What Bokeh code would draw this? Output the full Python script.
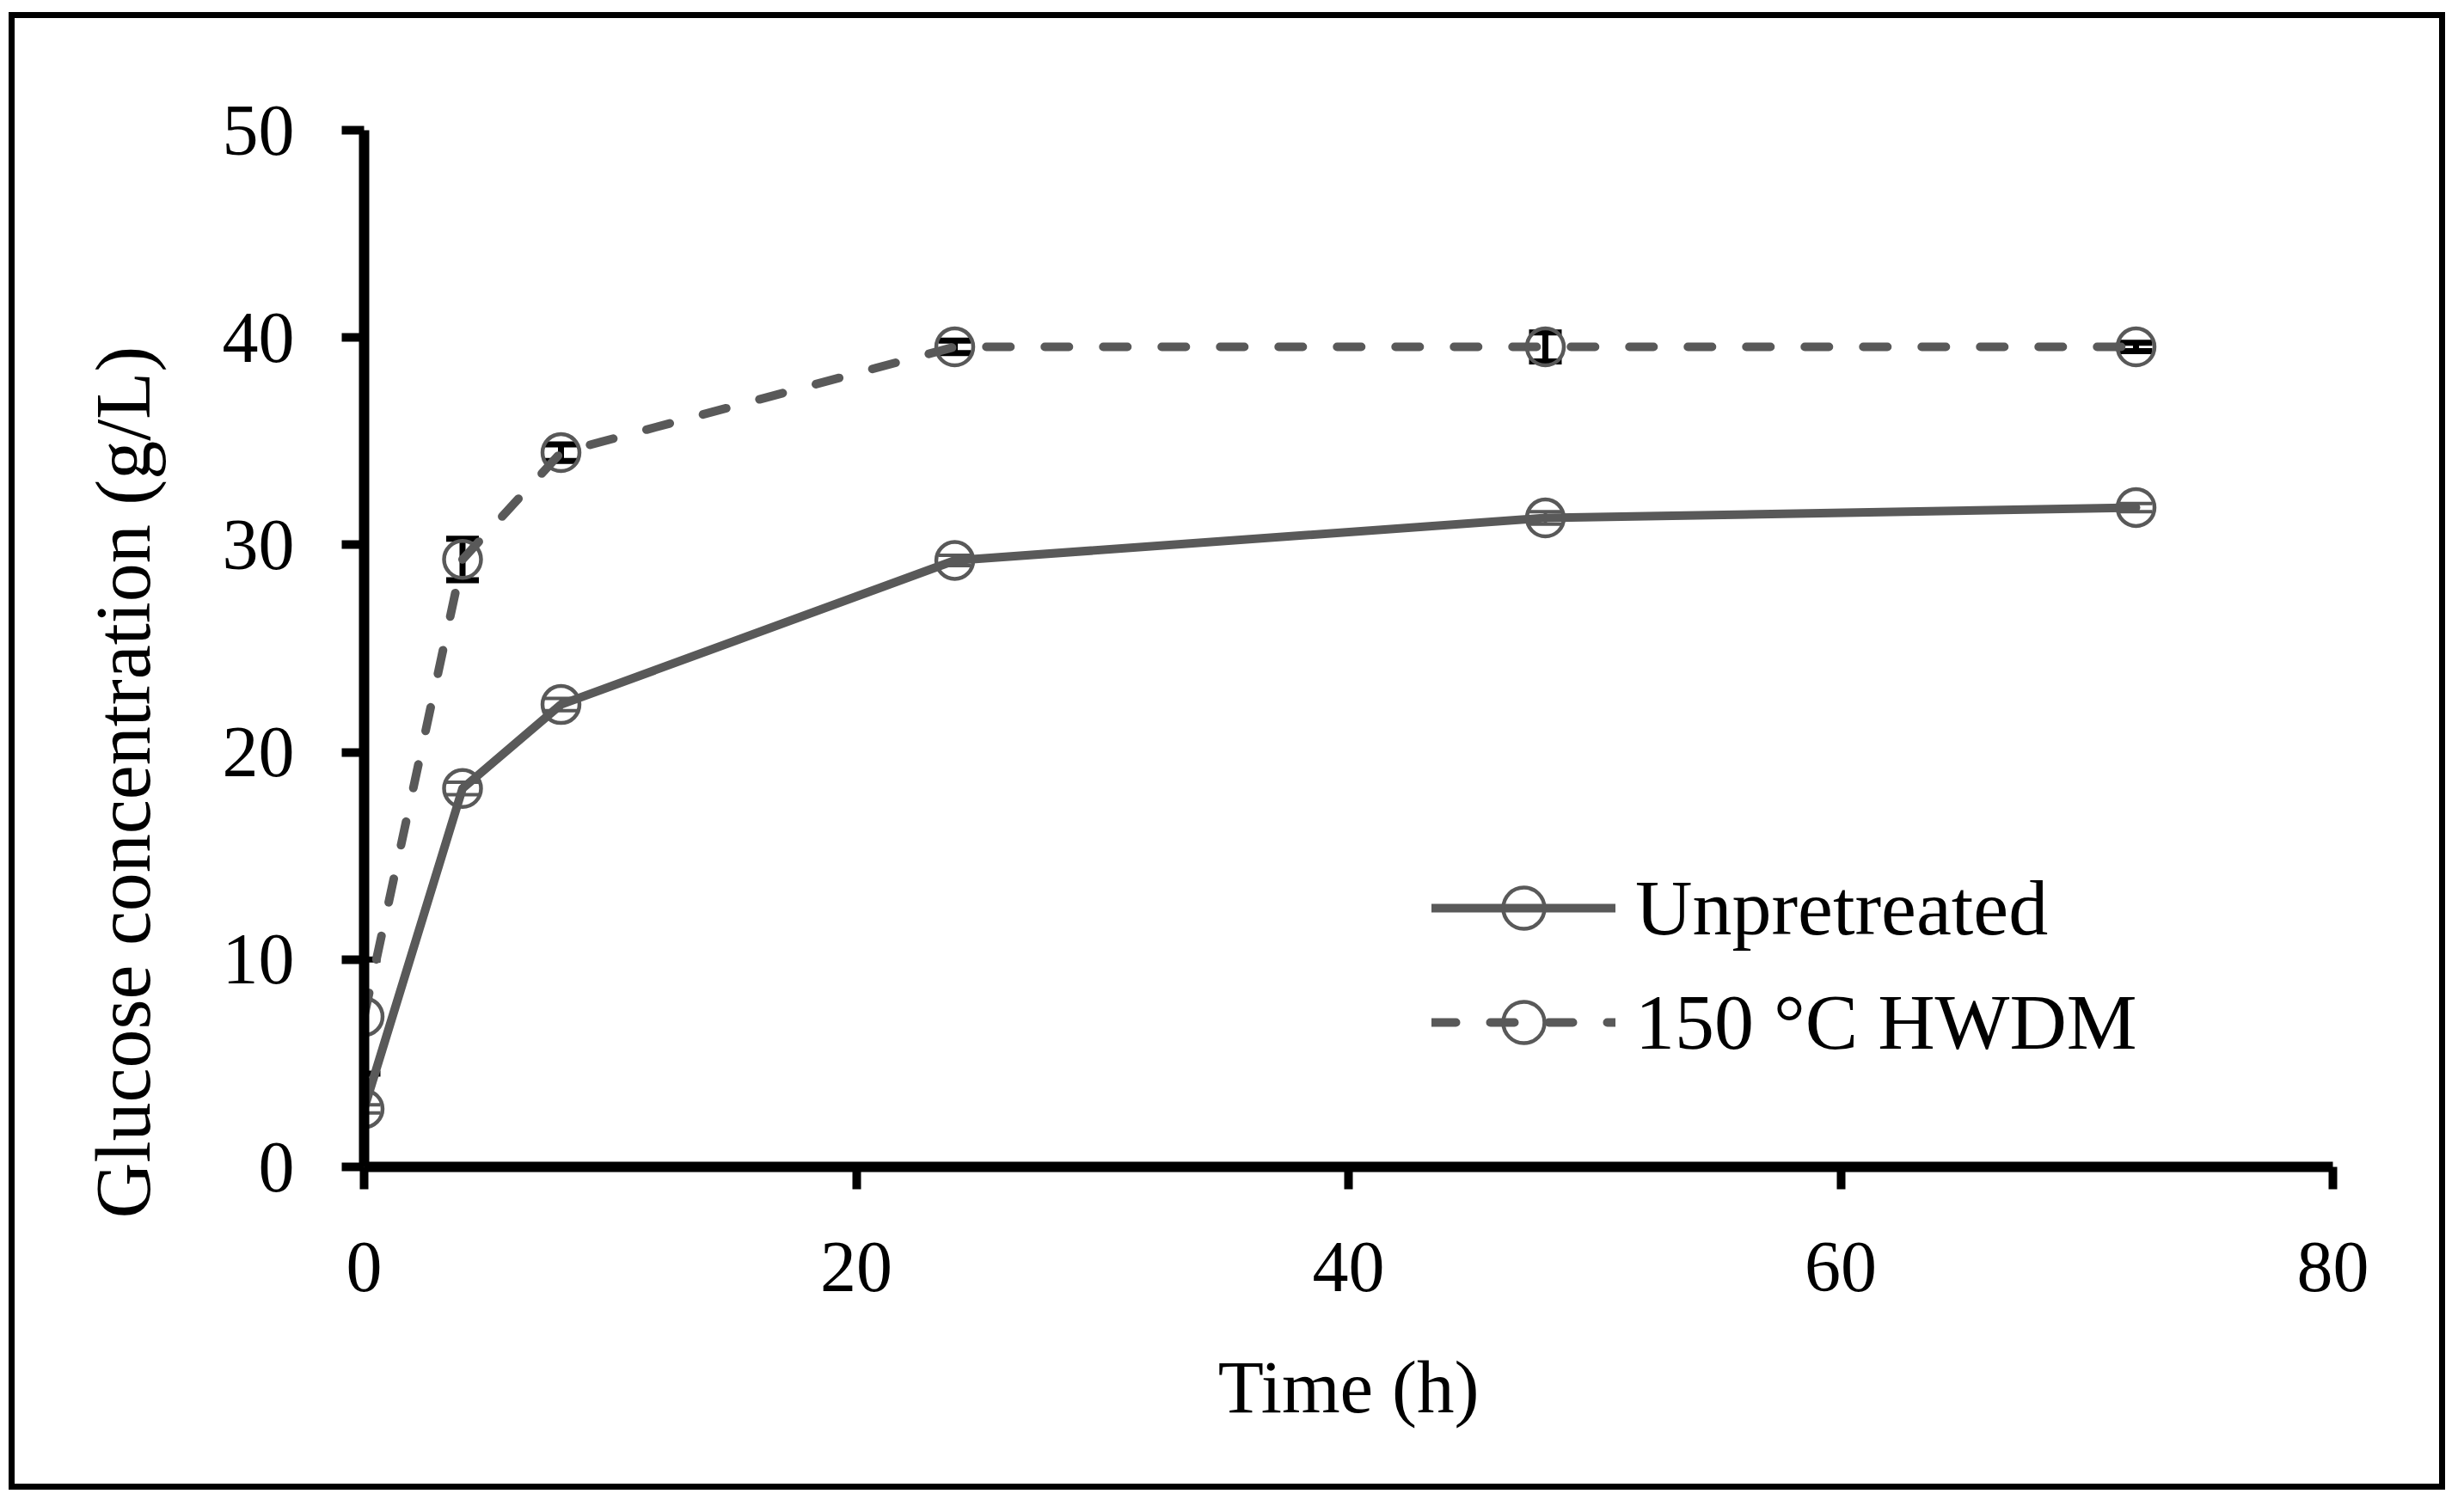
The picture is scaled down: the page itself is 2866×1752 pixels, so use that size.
from bokeh.plotting import figure
from bokeh.models import (Range1d, Whisker, ColumnDataSource, TeeHead, Title,
                          Legend, LegendItem, FixedTicker)
from bokeh.embed import file_html
from bokeh.resources import INLINE

# ---- data ----
time_h = [0, 4, 8, 24, 48, 72]
unpretreated = [2.8, 18.25, 22.3, 29.25, 31.3, 31.8]
unpretreated_err = [0.2, 0.3, 0.3, 0.25, 0.3, 0.2]
hwdm = [7.25, 29.3, 34.45, 39.55, 39.55, 39.55]
hwdm_err = [2.75, 1.0, 0.4, 0.3, 0.7, 0.2]
x_ticks = [0, 20, 40, 60, 80]
y_ticks = [0, 10, 20, 30, 40, 50]
series_names = ["Unpretreated", "150 °C HWDM"]
x_title = "Time (h)"
y_title = "Glucose concentration (g/L)"

GRAY = "#595959"
FONT = "Liberation Serif"

W, H = 2834, 1719
p = figure(width=W, height=H, output_backend="svg", toolbar_location=None,
           x_range=Range1d(0, 80), y_range=Range1d(0, 50),
           min_border_left=406, min_border_right=138,
           min_border_top=130, min_border_bottom=383)
p.styles = {"border": "7px solid black", "margin-left": "10px", "margin-top": "14px"}
p.grid.visible = False
p.outline_line_color = None
p.background_fill_color = "white"
p.border_fill_color = "white"

p.xaxis.ticker = FixedTicker(ticks=x_ticks)
p.yaxis.ticker = FixedTicker(ticks=y_ticks)
for ax in (p.xaxis[0], p.yaxis[0]):
    ax.axis_line_width = 12
    ax.axis_line_color = "black"
    ax.major_tick_line_width = 10
    ax.major_tick_line_color = "black"
    ax.major_tick_out = 26
    ax.major_tick_in = 0
    ax.minor_tick_line_color = None
    ax.major_label_text_font = FONT
    ax.major_label_text_font_size = "84px"
    ax.major_label_text_color = "black"
p.xaxis.major_label_standoff = 62
p.yaxis.major_label_standoff = 55
p.xaxis.axis_label = x_title
p.xaxis.axis_label_text_font = FONT
p.xaxis.axis_label_text_font_size = "87px"
p.xaxis.axis_label_text_font_style = "normal"
p.xaxis.axis_label_text_color = "black"
p.xaxis.axis_label_standoff = 60

# y title in the left panel, starting a little below the x axis like the reference
p.add_layout(Title(text=y_title, align="left", offset=-60, standoff=125,
                   text_font=FONT, text_font_size="90px", text_font_style="normal",
                   text_color="black"), "left")

# series
l1 = p.line(time_h, unpretreated, line_color=GRAY, line_width=10, line_cap="round", line_join="round")
l2 = p.line(time_h, hwdm, line_color=GRAY, line_width=10, line_dash="28 40", line_cap="round", line_join="round")

src_u = ColumnDataSource(dict(x=time_h,
                              upper=[v + e for v, e in zip(unpretreated, unpretreated_err)],
                              lower=[v - e for v, e in zip(unpretreated, unpretreated_err)]))
src_h = ColumnDataSource(dict(x=time_h,
                              upper=[v + e for v, e in zip(hwdm, hwdm_err)],
                              lower=[v - e for v, e in zip(hwdm, hwdm_err)]))

s1 = p.scatter(time_h, unpretreated, marker="circle", size=43, fill_color=None,
               line_color=GRAY, line_width=4.5)
s2 = p.scatter(time_h, hwdm, marker="circle", size=43, fill_color=None,
               line_color=GRAY, line_width=4.5)

wu = Whisker(source=src_u, base="x", upper="upper", lower="lower", dimension="height",
             line_color=GRAY, line_width=4,
             upper_head=TeeHead(size=38, line_width=4, line_color=GRAY),
             lower_head=TeeHead(size=38, line_width=4, line_color=GRAY))
wh = Whisker(source=src_h, base="x", upper="upper", lower="lower", dimension="height",
             line_color="black", line_width=7,
             upper_head=TeeHead(size=38, line_width=7, line_color="black"),
             lower_head=TeeHead(size=38, line_width=7, line_color="black"))
p.add_layout(wu)
p.add_layout(wh)

legend = Legend(items=[LegendItem(label=series_names[0], renderers=[l1, s1]),
                       LegendItem(label=series_names[1], renderers=[l2, s2])],
                location=(1242, 108), orientation="vertical",
                glyph_width=214, glyph_height=120, label_height=120, spacing=13,
                padding=0, margin=0, label_standoff=23,
                border_line_color=None, background_fill_alpha=0,
                label_text_font=FONT, label_text_font_size="92px",
                label_text_color="black")
p.add_layout(legend)

open("out.html", "w").write(file_html(p, INLINE))
